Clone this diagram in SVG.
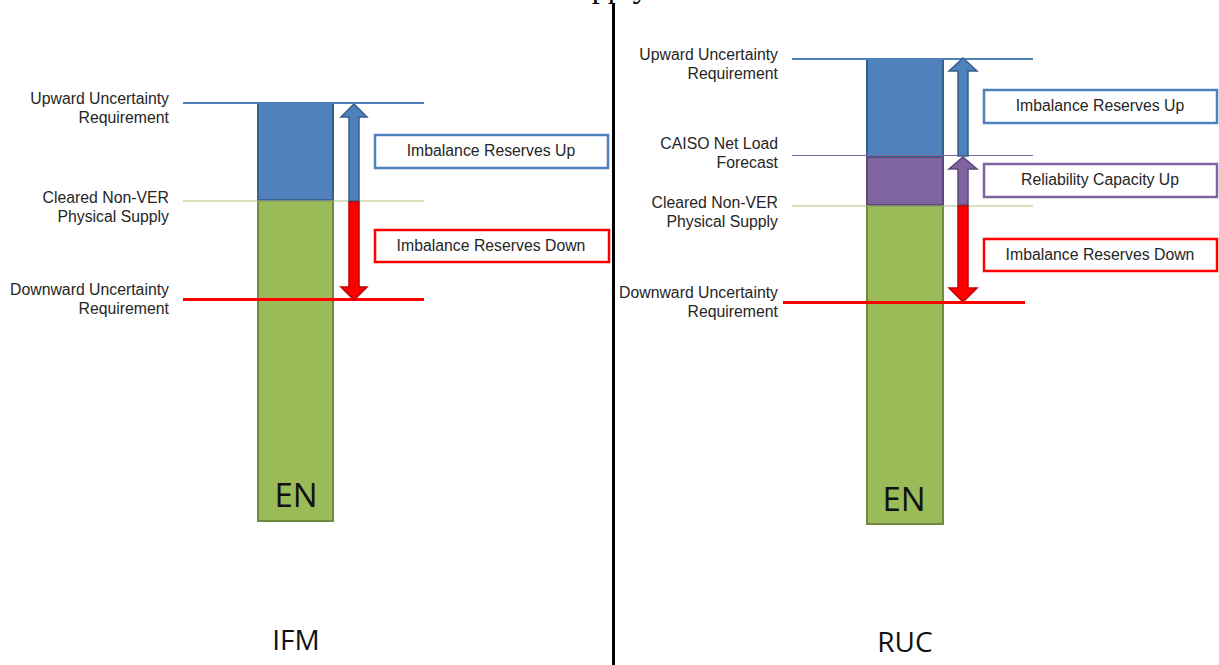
<svg xmlns="http://www.w3.org/2000/svg" width="1219" height="665" viewBox="0 0 1219 665">
<style>
.lbl{font-family:"Liberation Sans",Arial,sans-serif;font-size:15.8px;fill:#262626;text-anchor:end}
.btxt{font-family:"Liberation Sans",Arial,sans-serif;font-size:15.8px;fill:#262626;text-anchor:middle}
.big{font-family:"Open Sans","Liberation Sans",sans-serif;fill:#111;text-anchor:middle}
.box{fill:#fff;stroke-width:2.5}
.blueFill{fill:#4f81bd;stroke:#3a5f8b;stroke-width:2}
.greenFill{fill:#9bbb59;stroke:#71893f;stroke-width:2}
.purpleFill{fill:#8064a2;stroke:#5c4776;stroke-width:2}
.upArrow{fill:#4f81bd;stroke:#385d8a;stroke-width:1.5}
.purArrow{fill:#8064a2;stroke:#5c4776;stroke-width:1.5}
.dnArrow{fill:#ff0000;stroke:#c00000;stroke-width:1.5}
</style>
<rect x="0" y="0" width="1219" height="665" fill="#fff"/>
<text x="558" y="-3.5" font-family="'Liberation Serif','Times New Roman',serif" font-size="32" fill="#000">Supply</text>
<line x1="613.5" y1="3" x2="613.5" y2="665" stroke="#000" stroke-width="3"/>

<g id="ifm-bars">
<rect class="greenFill" x="258" y="201" width="75" height="320"/>
<rect class="blueFill" x="258" y="103" width="75" height="97"/>
<text class="big" x="296" y="507" font-size="33">EN</text>
</g>
<g id="ruc-bars">
<rect class="greenFill" x="867" y="206" width="76" height="318"/>
<rect class="purpleFill" x="867" y="157" width="76" height="48"/>
<rect class="blueFill" x="867" y="59" width="76" height="97"/>
<text class="big" x="904" y="511" font-size="33">EN</text>
</g>

<g id="connectors">
<line x1="183" y1="103" x2="424" y2="103" stroke="#4f81bd" stroke-width="2"/>
<line x1="183" y1="201" x2="424" y2="201" stroke="#a9c477" stroke-width="1"/>
<line x1="183" y1="299.5" x2="424" y2="299.5" stroke="#ff0000" stroke-width="3"/>
<line x1="792" y1="59" x2="1033" y2="59" stroke="#4f81bd" stroke-width="2"/>
<line x1="792" y1="155.5" x2="1033" y2="155.5" stroke="#8064a2" stroke-width="1"/>
<line x1="792" y1="206" x2="1033" y2="206" stroke="#a9c477" stroke-width="1"/>
<line x1="783" y1="302.5" x2="1025" y2="302.5" stroke="#ff0000" stroke-width="3"/>
<polygon class="upArrow" points="354,104 367,117 359,117 359,201 349,201 349,117 341,117"/>
<polygon class="dnArrow" points="349,202 359,202 359,287 367,287 354,300 341,287 349,287"/>
<polygon class="upArrow" points="963,58 977,71 968,71 968,156 958,156 958,71 949,71"/>
<polygon class="purArrow" points="963,157 977,169 968,169 968,205 958,205 958,169 949,169"/>
<polygon class="dnArrow" points="958,206 968,206 968,288 977,288 963,302 949,288 958,288"/>
</g>

<g id="ifm-labels">
<text class="lbl" x="169" y="104">Upward Uncertainty</text>
<text class="lbl" x="169" y="123">Requirement</text>
<text class="lbl" x="169" y="203">Cleared Non-VER</text>
<text class="lbl" x="169" y="222">Physical Supply</text>
<text class="lbl" x="169" y="295">Downward Uncertainty</text>
<text class="lbl" x="169" y="314">Requirement</text>
</g>
<g id="ruc-labels">
<text class="lbl" x="778" y="60">Upward Uncertainty</text>
<text class="lbl" x="778" y="79">Requirement</text>
<text class="lbl" x="778" y="149">CAISO Net Load</text>
<text class="lbl" x="778" y="168">Forecast</text>
<text class="lbl" x="778" y="208">Cleared Non-VER</text>
<text class="lbl" x="778" y="227">Physical Supply</text>
<text class="lbl" x="778" y="298">Downward Uncertainty</text>
<text class="lbl" x="778" y="317">Requirement</text>
</g>

<g id="ifm-box-up">
<rect class="box" x="375" y="135" width="233" height="33" stroke="#4f81bd"/>
<text class="btxt" x="491" y="156">Imbalance Reserves Up</text>
</g>
<g id="ifm-box-down">
<rect class="box" x="375" y="230" width="234" height="32" stroke="#ff0000"/>
<text class="btxt" x="491" y="251">Imbalance Reserves Down</text>
</g>
<g id="ruc-box-up">
<rect class="box" x="984" y="90" width="233" height="33" stroke="#4f81bd"/>
<text class="btxt" x="1100" y="111">Imbalance Reserves Up</text>
</g>
<g id="ruc-box-rel">
<rect class="box" x="984" y="164" width="233" height="33" stroke="#8064a2"/>
<text class="btxt" x="1100" y="185">Reliability Capacity Up</text>
</g>
<g id="ruc-box-down">
<rect class="box" x="984" y="239" width="233" height="32" stroke="#ff0000"/>
<text class="btxt" x="1100" y="260">Imbalance Reserves Down</text>
</g>

<g id="titles">
<text class="big" x="296" y="650" font-size="28">IFM</text>
<text class="big" x="905" y="652" font-size="28">RUC</text>
</g>
</svg>
